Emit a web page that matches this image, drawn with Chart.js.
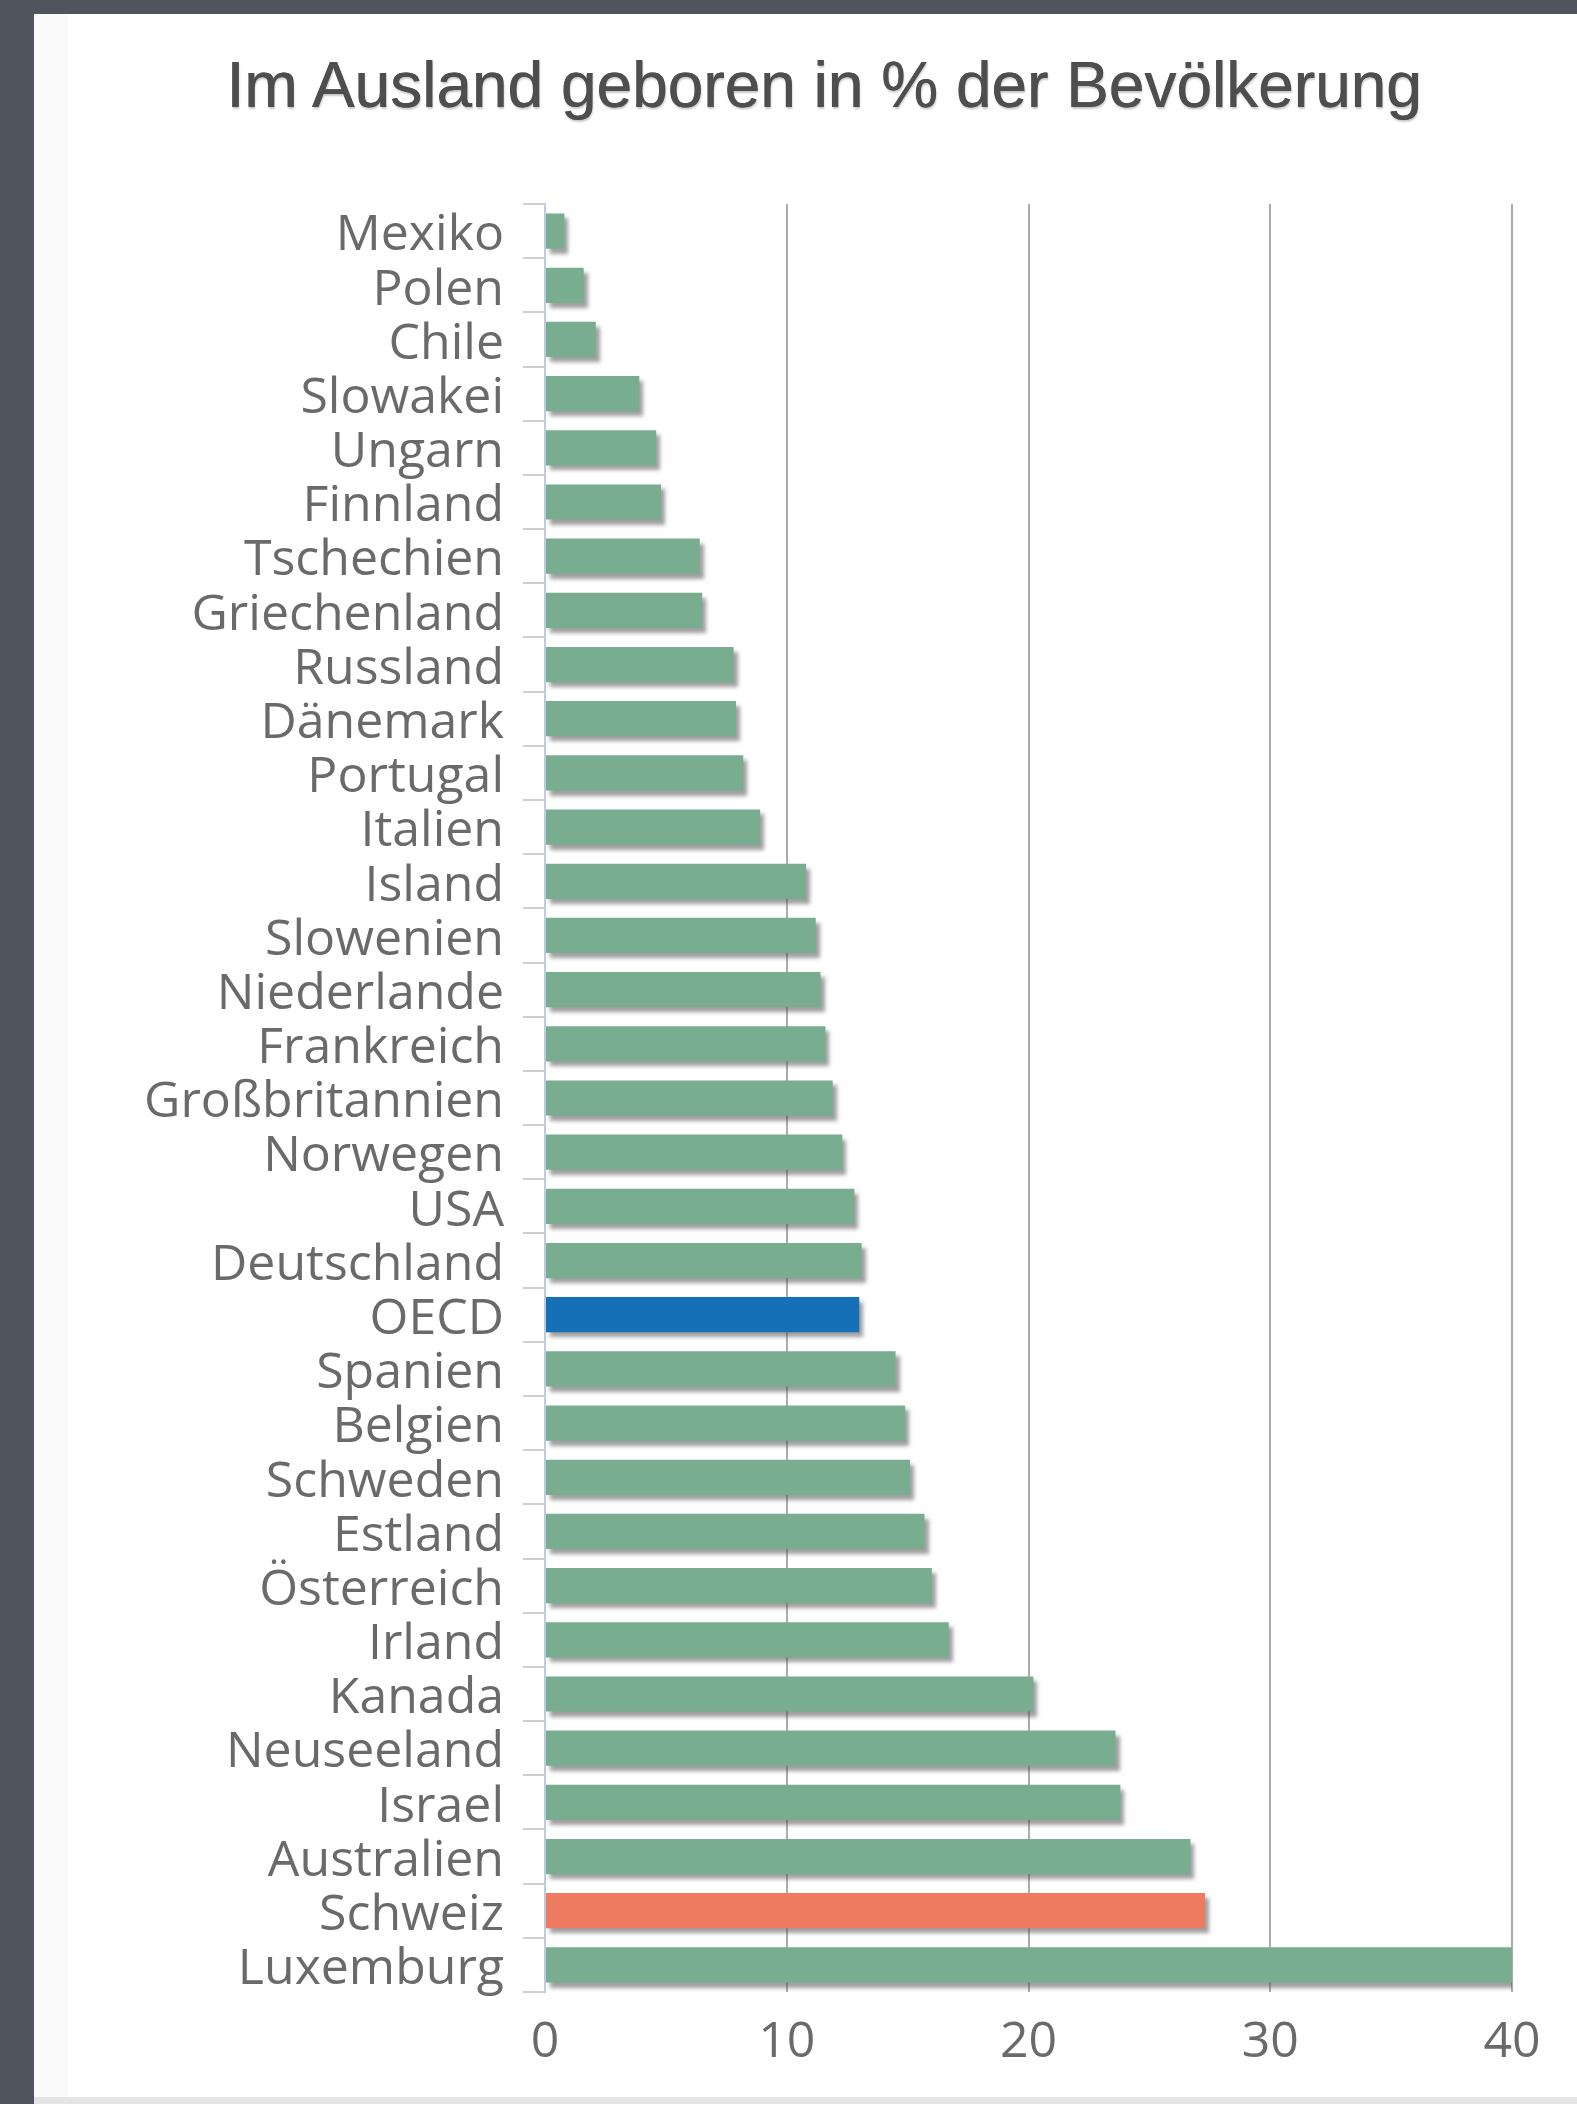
<!DOCTYPE html>
<html>
<head>
<meta charset="utf-8">
<script src="https://cdn.jsdelivr.net/npm/chart.js@4/dist/chart.umd.min.js"></script>
<style>
  html,body{margin:0;padding:0;}
  body{width:1577px;height:2104px;background:#50555d;position:relative;overflow:hidden;}
  #panel{position:absolute;left:34px;top:14px;width:1543px;height:2083px;background:#ffffff;}
  #edge{position:absolute;left:34px;top:14px;width:34px;height:2083px;background:#fafafa;}
  #bottom{position:absolute;left:34px;top:2097px;width:1543px;height:7px;background:#e4e4e4;}
  #wrap{position:absolute;left:34px;top:14px;width:1543px;height:2083px;}
  #title{position:absolute;left:324px;width:1000px;top:53px;height:64px;display:flex;justify-content:center;
         white-space:nowrap;font-family:"Liberation Sans",Arial,sans-serif;font-size:64px;line-height:64px;
         color:#4e4e4e;text-shadow:0.6px 0 0 #4e4e4e, 1px 2px 2px rgba(0,0,0,0.22);}
</style>
</head>
<body>
<div id="panel"></div>
<div id="edge"></div>
<div id="bottom"></div>
<div id="wrap"><canvas id="c" width="1543" height="2083"></canvas></div>
<div id="title"></div>
<script>
const titleText = 'Im Ausland geboren in % der Bevölkerung';
const categories = ['Mexiko','Polen','Chile','Slowakei','Ungarn','Finnland','Tschechien','Griechenland','Russland','Dänemark','Portugal','Italien','Island','Slowenien','Niederlande','Frankreich','Großbritannien','Norwegen','USA','Deutschland','OECD','Spanien','Belgien','Schweden','Estland','Österreich','Irland','Kanada','Neuseeland','Israel','Australien','Schweiz','Luxemburg'];
const values = [0.8,1.6,2.1,3.9,4.6,4.8,6.4,6.5,7.8,7.9,8.2,8.9,10.8,11.2,11.4,11.6,11.9,12.3,12.8,13.1,13.0,14.5,14.9,15.1,15.7,16.0,16.7,20.2,23.6,23.8,26.7,27.3,40];
const xTicks = [0,10,20,30,40];

document.getElementById('title').textContent = titleText;

const colorFor = name => name === 'OECD' ? '#1670b8' : (name === 'Schweiz' ? '#ee7a5f' : '#78ad8f');
const barColors = categories.map(colorFor);

const shadowPlugin = {
  id: 'barShadow',
  beforeDatasetsDraw(chart) {
    const c = chart.ctx;
    c.save();
    c.shadowColor = 'rgba(80,80,80,0.55)';
    c.shadowOffsetX = 4;
    c.shadowOffsetY = 5;
    c.shadowBlur = 4;
  },
  afterDatasetsDraw(chart) { chart.ctx.restore(); }
};

new Chart(document.getElementById('c'), {
  type: 'bar',
  data: {
    labels: categories,
    datasets: [{
      data: values,
      backgroundColor: barColors,
      borderWidth: 0,
      barPercentage: 0.65,
      categoryPercentage: 1.0
    }]
  },
  plugins: [shadowPlugin],
  options: {
    indexAxis: 'y',
    responsive: false,
    animation: false,
    devicePixelRatio: 1,
    layout: { padding: { left: 0, right: 65, top: 190, bottom: 0 } },
    plugins: {
      legend: { display: false },
      tooltip: { enabled: false },
      title: { display: false }
    },
    scales: {
      x: {
        min: 0, max: 40,
        afterBuildTicks(scale) { scale.ticks = xTicks.map(v => ({ value: v })); },
        afterFit(scale) { scale.height = 105; },
        border: { display: false },
        grid: {
          drawTicks: false,
          lineWidth: 2,
          color: ctx => (ctx.tick && ctx.tick.value === 0) ? 'rgba(0,0,0,0)' : '#acacac'
        },
        ticks: {
          padding: 26,
          color: '#6a6a6a',
          font: { family: '"Open Sans", sans-serif', size: 50, lineHeight: 1 }
        }
      },
      y: {
        afterFit(scale) { scale.width = 511; },
        border: { display: true, color: '#bccde0', width: 2 },
        grid: {
          drawOnChartArea: false,
          drawTicks: true,
          tickLength: 22,
          lineWidth: 2,
          color: '#cfcfcf'
        },
        ticks: {
          autoSkip: false,
          padding: 19,
          labelOffset: 5,
          color: '#6a6a6a',
          font: { family: '"Open Sans", sans-serif', size: 50, lineHeight: 1 }
        }
      }
    }
  }
});
</script>
</body>
</html>
